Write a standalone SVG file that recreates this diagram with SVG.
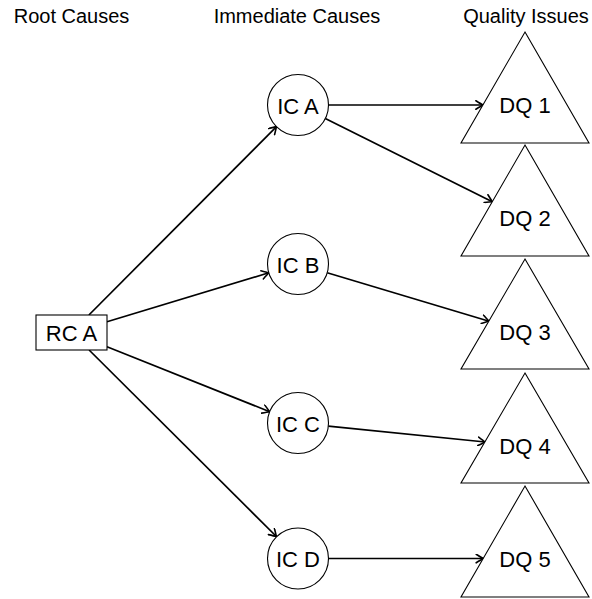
<svg xmlns="http://www.w3.org/2000/svg" width="592" height="599" viewBox="0 0 592 599">
<defs>
<style>
text{font-family:"Liberation Sans","DejaVu Sans",sans-serif;fill:#000;}
.hdr{font-size:20px;text-anchor:middle;}
.lbl{font-size:22px;text-anchor:middle;dominant-baseline:central;}
.shape{fill:#fff;stroke:#000;stroke-width:1.1;}
.edge{fill:none;stroke:#000;stroke-width:1.7;marker-end:url(#arr);}
</style>
<marker id="arr" viewBox="-8 -5 10 10" refX="0" refY="0" markerWidth="10" markerHeight="10" markerUnits="userSpaceOnUse" orient="auto">
<path d="M-7,-4.3 Q-2,-1.2 0,0 Q-2,1.2 -7,4.3" fill="none" stroke="#000" stroke-width="1.6" stroke-linecap="round" stroke-linejoin="round"/>
</marker>
</defs>
<g id="headers">
<text class="hdr" x="71.5" y="23">Root Causes</text>
<text class="hdr" x="297" y="23">Immediate Causes</text>
<text class="hdr" x="526" y="23">Quality Issues</text>
</g>
<g id="connectors">
<path class="edge" d="M88.9,315 L276.5,126.6"/>
<path class="edge" d="M107,321.8 L268.8,272.8"/>
<path class="edge" d="M107,346.7 L269.7,411.7"/>
<path class="edge" d="M89.1,350 L276.4,536.5"/>
<path class="edge" d="M328.5,105 L482.9,105"/>
<path class="edge" d="M325.3,118.6 L492.3,201.7"/>
<path class="edge" d="M327.2,272.8 L489.1,321.3"/>
<path class="edge" d="M328.3,426.1 L485.2,442"/>
<path class="edge" d="M328.5,558.5 L483.2,558.5"/>
</g>
<g id="rc-a"><rect class="shape" x="36" y="315" width="71" height="35"/><text class="lbl" x="71.5" y="333">RC A</text></g>
<g id="ic-a"><circle class="shape" cx="298" cy="105" r="30.5"/><text class="lbl" x="298" y="106">IC A</text></g>
<g id="ic-b"><circle class="shape" cx="298" cy="264" r="30.5"/><text class="lbl" x="298" y="265">IC B</text></g>
<g id="ic-c"><circle class="shape" cx="298" cy="423" r="30.5"/><text class="lbl" x="298" y="424">IC C</text></g>
<g id="ic-d"><circle class="shape" cx="298" cy="558.5" r="30.5"/><text class="lbl" x="298" y="559.5">IC D</text></g>
<g id="dq-1"><polygon class="shape" points="525,32 589,143 461,143"/><text class="lbl" x="525" y="105">DQ 1</text></g>
<g id="dq-2"><polygon class="shape" points="525,145 589,256 461,256"/><text class="lbl" x="525" y="218">DQ 2</text></g>
<g id="dq-3"><polygon class="shape" points="525,259 589,369 461,369"/><text class="lbl" x="525" y="332">DQ 3</text></g>
<g id="dq-4"><polygon class="shape" points="525,373 589,483 461,483"/><text class="lbl" x="525" y="446">DQ 4</text></g>
<g id="dq-5"><polygon class="shape" points="525,486 589,597 461,597"/><text class="lbl" x="525" y="559">DQ 5</text></g>
</svg>
